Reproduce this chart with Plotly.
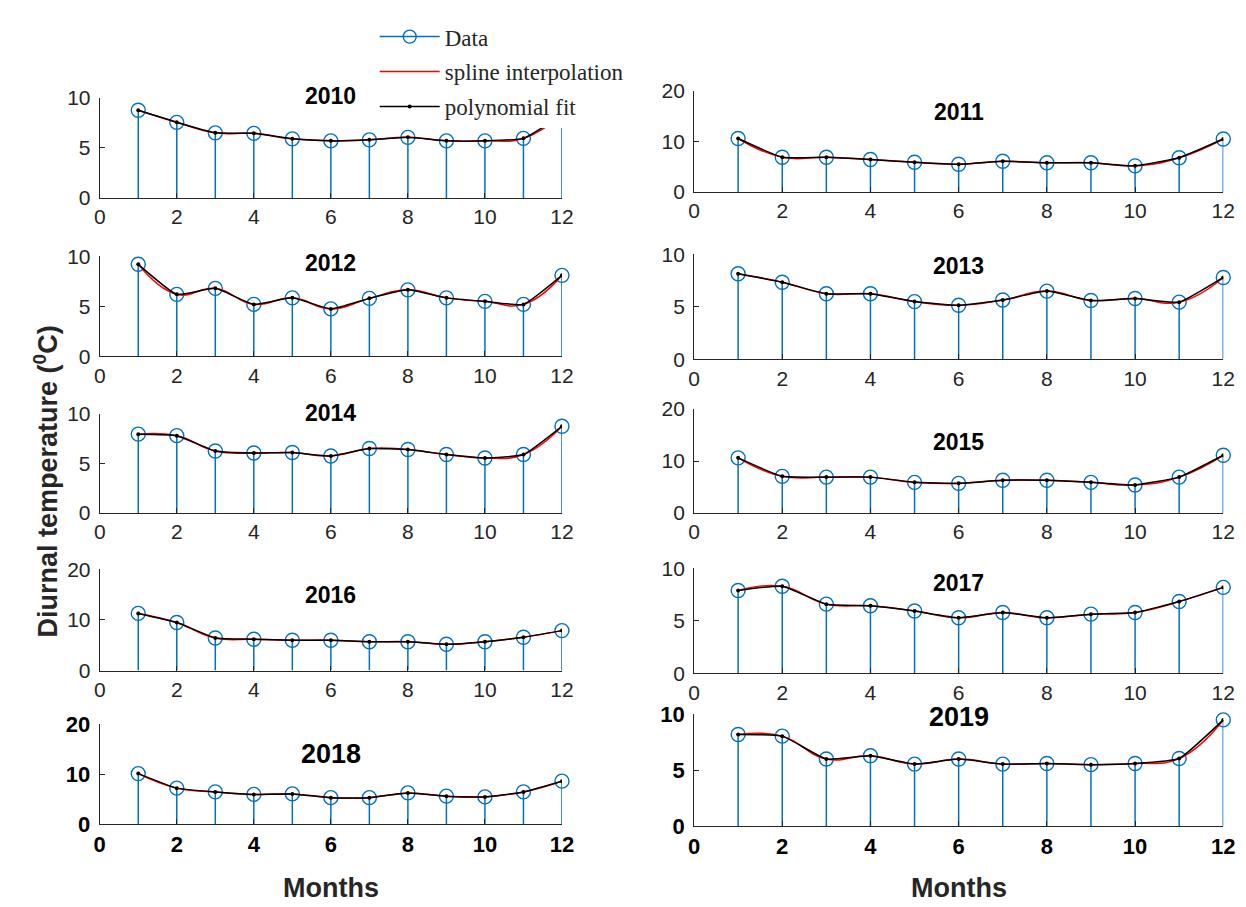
import plotly.graph_objects as go

W, H = 1246, 907

months = list(range(1, 13))
x_ticks = [0, 2, 4, 6, 8, 10, 12]

years = ["2010", "2011", "2012", "2013", "2014", "2015", "2016", "2017", "2018", "2019"]

temp_2010 = [8.75, 7.55, 6.5, 6.45, 5.9, 5.7, 5.8, 6.05, 5.7, 5.7, 5.95, 8.3]
temp_2011 = [10.6, 6.9, 6.9, 6.45, 5.9, 5.5, 6.1, 5.8, 5.8, 5.2, 6.8, 10.5]
temp_2012 = [9.2, 6.2, 6.8, 5.2, 5.85, 4.75, 5.8, 6.65, 5.85, 5.5, 5.2, 8.1]
temp_2013 = [8.15, 7.35, 6.25, 6.25, 5.5, 5.15, 5.65, 6.5, 5.6, 5.8, 5.45, 7.8]
temp_2014 = [7.95, 7.8, 6.25, 6.05, 6.1, 5.75, 6.5, 6.4, 5.9, 5.55, 5.9, 8.75]
temp_2015 = [10.6, 7.05, 6.9, 6.9, 5.9, 5.7, 6.3, 6.3, 5.9, 5.4, 6.9, 11.1]
temp_2016 = [11.3, 9.5, 6.45, 6.2, 6.0, 6.0, 5.7, 5.7, 5.2, 5.7, 6.6, 7.9]
temp_2017 = [7.9, 8.3, 6.6, 6.45, 5.95, 5.3, 5.8, 5.3, 5.65, 5.8, 6.85, 8.2]
temp_2018 = [10.1, 7.2, 6.45, 5.95, 6.05, 5.3, 5.3, 6.25, 5.6, 5.45, 6.45, 8.6]
temp_2019 = [8.2, 8.05, 6.0, 6.3, 5.55, 6.0, 5.55, 5.6, 5.5, 5.6, 6.05, 9.5]

series = [temp_2010, temp_2011, temp_2012, temp_2013, temp_2014,
          temp_2015, temp_2016, temp_2017, temp_2018, temp_2019]

y_max = [10, 20, 10, 10, 10, 20, 20, 10, 20, 10]

# layout (pixel boxes): (x0, x1), ytop, ybottom ; title pixel position
LEFT = (87, 556)
RIGHT = (690, 1227)
boxes = [
    (LEFT, 80, 183), (RIGHT, 73, 177),
    (LEFT, 243, 346), (RIGHT, 241, 349),
    (LEFT, 405, 507), (RIGHT, 400, 507),
    (LEFT, 565, 669), (RIGHT, 564, 672),
    (LEFT, 724, 827), (RIGHT, 714, 829),
]
title_y = [78, 95, 250, 253, 404, 434, 591, 579, 755, 717]

BLUE = "#0072BD"
AX = "#262626"
SANS = "Liberation Sans, Arial, sans-serif"
SERIF = "Liberation Serif, Times New Roman, serif"


def px(p):
    return p / W


def py(p):
    return 1 - p / H


fig = go.Figure()

for i, (yr, vals) in enumerate(zip(years, series)):
    n = "" if i == 0 else str(i + 1)
    xa, ya = "x" + n, "y" + n
    # stems
    fig.add_trace(go.Scatter(
        x=months, y=vals, xaxis=xa, yaxis=ya, mode="markers",
        marker=dict(symbol="circle-open", size=14, color=BLUE, line=dict(width=1.4, color=BLUE)),
        error_y=dict(type="data", symmetric=False, array=[0] * len(vals), arrayminus=vals,
                     width=0, thickness=1.5, color=BLUE),
        cliponaxis=False, showlegend=False, hoverinfo="skip"))
    # spline interpolation
    fig.add_trace(go.Scatter(
        x=months, y=vals, xaxis=xa, yaxis=ya, mode="lines",
        line=dict(color="red", width=1.5, shape="spline", smoothing=1.3),
        showlegend=False, hoverinfo="skip"))
    # polynomial fit
    fig.add_trace(go.Scatter(
        x=months, y=vals, xaxis=xa, yaxis=ya, mode="lines+markers",
        line=dict(color="black", width=1.5, shape="spline", smoothing=0.4),
        marker=dict(size=4, color="black"),
        showlegend=False, hoverinfo="skip"))

# legend entries
fig.add_trace(go.Scatter(x=[None], y=[None], mode="lines+markers", name="Data",
                         line=dict(color=BLUE, width=1.5),
                         marker=dict(symbol="circle-open", size=13, color=BLUE, line=dict(width=1.4)),
                         legendgroup="a"))
fig.add_trace(go.Scatter(x=[None], y=[None], mode="lines", name="spline interpolation",
                         line=dict(color="red", width=1.5), legendgroup="b"))
fig.add_trace(go.Scatter(x=[None], y=[None], mode="lines+markers", name="polynomial fit",
                         line=dict(color="black", width=1.5), marker=dict(size=4, color="black"),
                         legendgroup="c"))

layout = dict(
    width=W, height=H, margin=dict(l=0, r=0, t=0, b=0),
    paper_bgcolor="white", plot_bgcolor="white",
    showlegend=True,
    legend=dict(x=px(366), y=py(-5), xanchor="left", yanchor="top",
                bgcolor="white", borderwidth=0,
                font=dict(family=SERIF, size=23, color=AX),
                traceorder="grouped", tracegroupgap=2, itemwidth=60),
)

annotations = []
for i, yr in enumerate(years):
    n = "" if i == 0 else str(i + 1)
    (x0, x1), yt, yb = boxes[i]
    bottom = i >= 8
    tfont = dict(family=SANS, size=22 if bottom else 21, color="#000000" if bottom else AX,
                 weight="bold" if bottom else "normal")
    layout["xaxis" + n] = dict(
        domain=[px(x0), px(x1)], anchor="y" + n, range=[0, 12],
        tickvals=x_ticks, ticks="inside", ticklen=5, tickcolor=AX,
        showline=True, linecolor=AX, linewidth=1, showgrid=False, zeroline=False,
        tickfont=tfont, fixedrange=True)
    step = 5 if y_max[i] == 10 else 10
    layout["yaxis" + n] = dict(
        domain=[py(yb), py(yt)], anchor="x" + n, range=[0, y_max[i]],
        tickvals=list(range(0, y_max[i] + 1, step)), ticks="inside", ticklen=5, tickcolor=AX,
        showline=True, linecolor=AX, linewidth=1, showgrid=False, zeroline=False,
        tickfont=tfont, ticklabelstandoff=4, fixedrange=True)
    annotations.append(dict(
        text="<b>%s</b>" % yr, x=px((x0 + x1) / 2), y=py(title_y[i]),
        xref="paper", yref="paper", showarrow=False, xanchor="center", yanchor="middle",
        font=dict(family=SANS, size=27 if bottom else 23, color="black")))

annotations.append(dict(text="<b>Diurnal temperature (<sup>0</sup>C)</b>", x=px(32), y=py(475),
                        xref="paper", yref="paper", showarrow=False, textangle=-90,
                        xanchor="center", yanchor="middle",
                        font=dict(family=SANS, size=27, color=AX)))
for (x0, x1) in (LEFT, RIGHT):
    annotations.append(dict(text="<b>Months</b>", x=px((x0 + x1) / 2), y=py(893),
                            xref="paper", yref="paper", showarrow=False,
                            xanchor="center", yanchor="middle",
                            font=dict(family=SANS, size=27, color=AX)))

layout["annotations"] = annotations
fig.update_layout(**layout)

fig.write_html("out.html")
